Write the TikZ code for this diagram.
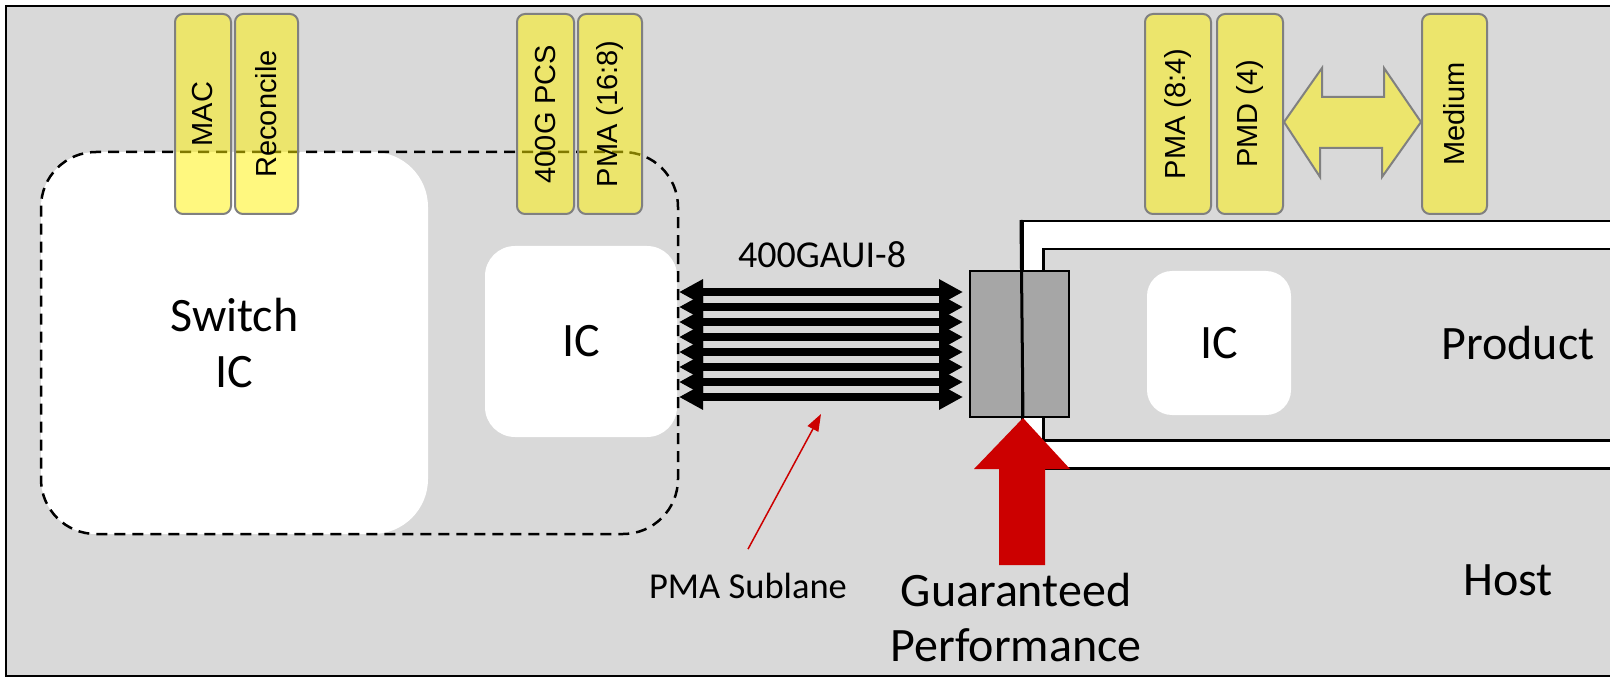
\documentclass[tikz,border=0pt]{standalone}
\usepackage{fontspec}
\setmainfont{Carlito}
\newfontfamily\arialf{Liberation Sans}
\usetikzlibrary{arrows.meta,calc}
\definecolor{bggray}{HTML}{D9D9D9}
\definecolor{conngray}{HTML}{A6A6A6}
\definecolor{hotred}{HTML}{CC0000}
\definecolor{boxborder}{HTML}{808080}
\begin{document}
\begin{tikzpicture}[x=1pt,y=-1pt,
  big/.style={font=\fontsize{48}{56}\selectfont},
  mid/.style={font=\fontsize{38}{44}\selectfont},
  small/.style={font=\fontsize{36.5}{42}\selectfont},
  layer/.style={draw=boxborder, line width=2pt, fill=yellow, fill opacity=0.5, text opacity=1,
    rounded corners=8pt, rotate=90, inner sep=0pt, minimum width=200pt,
    font=\arialf\fontsize{29}{34}\selectfont},
  chip/.style={fill=white, inner sep=0pt, align=center},
  lane/.style={line width=8pt, {Triangle[length=24pt,width=24pt]}-{Triangle[length=24pt,width=24pt]}},
  plain/.style={draw, inner sep=0pt, anchor=north west},
]
\useasboundingbox (0,0) rectangle (1610,679);
\fill[white] (0,0) rectangle (1610,679);
\clip (0,0) rectangle (1610,679);
% host frame
\draw[line width=2.5pt, fill=bggray] (6,6) rectangle (1660,676);

% chips on the host
\node[chip, rounded corners=55pt, minimum width=387pt, minimum height=382pt, big] (sw) at (234.5,343) {Switch\\IC};
\node[chip, rounded corners=30pt, minimum width=192pt, minimum height=191pt, big] (icl) at (581,341.5) {IC};
\node[draw, dash pattern=on 11pt off 7pt, line width=2.5pt, rounded corners=55pt,
      minimum width=637pt, minimum height=382pt, inner sep=0pt] (grp) at (359.5,343) {};

% layer boxes
\node[layer, minimum height=56pt] (mac) at (203,114) {MAC};
\node[layer, minimum height=63pt] (rec) at (266.5,114) {Reconcile};
\node[layer, minimum height=57pt] (pcs) at (545.5,114) {400G PCS};
\node[layer, minimum height=64pt] (pmaa) at (610,114) {PMA (16:8)};
\node[layer, minimum height=66pt] (pmab) at (1178,114) {PMA (8:4)};
\node[layer, minimum height=66pt] (pmd) at (1250,114) {PMD (4)};
\node[layer, minimum height=65pt] (med) at (1454.5,114) {Medium};

% double block arrow PMD <-> Medium (rotated nodes: south = right side, north = left side)
\coordinate (dl) at (pmd.south |- 0,122);
\coordinate (dr) at (med.north |- 0,122);
\draw[draw=boxborder, line width=2pt, fill=yellow, fill opacity=0.5]
  (dl) -- ++(38,-54) -- ++(0,29) -- ++(62,0) -- ++(0,-29) -- (dr)
  -- ++(-39,55) -- ++(0,-29) -- ++(-62,0) -- ++(0,29) -- cycle;

% product module
\node[plain, fill=white, line width=2.5pt, minimum width=640pt, minimum height=247pt] (outer) at (1021,220) {};
\node[plain, fill=bggray, line width=2.5pt, minimum width=620pt, minimum height=191pt] (inner) at (1042,248) {};
\node[chip, rounded corners=25pt, minimum width=144pt, minimum height=144pt, big] (icr) at (1219,343) {IC};
\node[big, anchor=base] (prod) at (1518,359) {Product};

% connector
\node[plain, fill=conngray, line width=2pt, minimum width=52pt, minimum height=146pt] (conna) at (969,270) {};
\node[plain, fill=conngray, line width=2pt, minimum width=47pt, minimum height=146pt] (connb) at (1021,270) {};
\draw[line width=3pt] (outer.north west) -- (conna.south east);

% 400GAUI-8 lanes
\foreach \i in {0,...,7} {
  \coordinate (ll\i) at (679,{292+15*\i});
  \coordinate (lr\i) at (963,{292+15*\i});
  \draw[lane] (ll\i) -- (lr\i);
}
\node[mid, anchor=base] (gaui) at (822,268) {400GAUI-8};

% guaranteed performance arrow
\fill[hotred] (conna.south east) -- ++(47,51) -- ++(-25,0) -- ++(0,96) -- ++(-46,0)
  -- ++(0,-96) -- ++(-25,0) -- cycle;
\node[big, anchor=base] (gp1) at (1016,606) {Guaranteed};
\node[big, anchor=base] (gp2) at (1016,661) {Performance};

% PMA sublane pointer
\node[small, anchor=base] (sub) at (748,598) {PMA Sublane};
\coordinate (subtip) at (821,414);
\draw[hotred, line width=1.5pt, -{Triangle[length=17pt,width=12pt]}] ([yshift=20pt]sub.north) -- (subtip);

\node[big, anchor=base] (host) at (1508,595) {Host};
\end{tikzpicture}
\end{document}
